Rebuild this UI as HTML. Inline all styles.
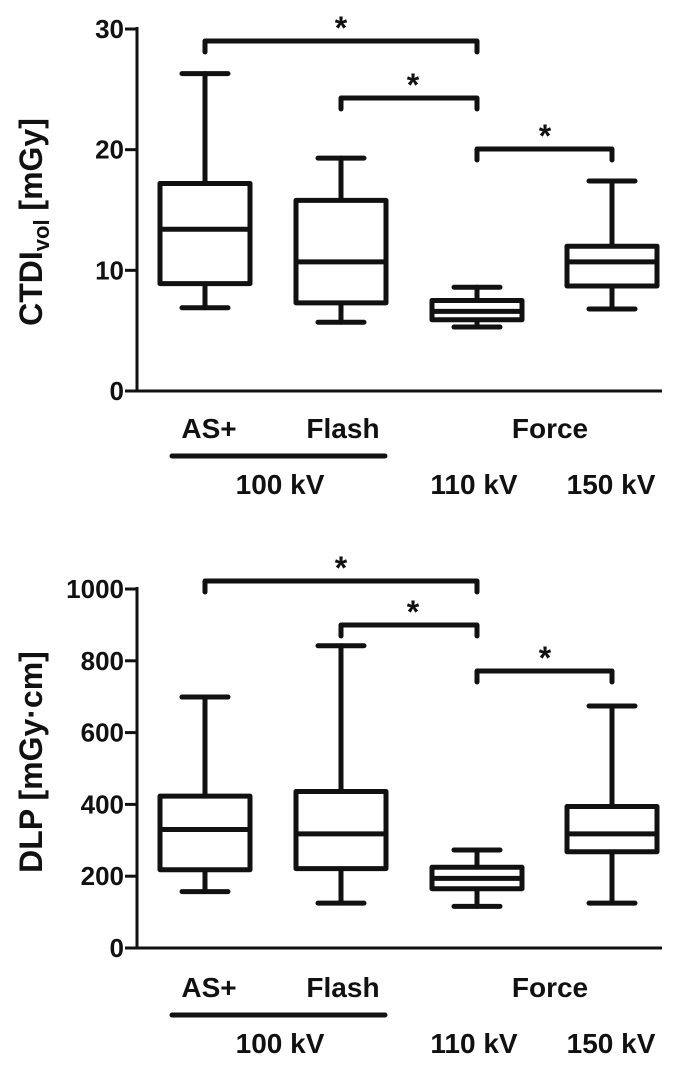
<!DOCTYPE html>
<html><head><meta charset="utf-8"><style>
html,body{margin:0;padding:0;background:#fff;}
svg{display:block;font-family:"Liberation Sans",Arial,sans-serif;font-weight:bold;}
</style></head><body>
<svg id="fig" width="696" height="1068" viewBox="0 0 696 1068"></svg>
<script>
const groups = ["AS+", "Flash", "Force 110 kV", "Force 150 kV"];
const groupX = [205, 341, 477, 612];
const ctdiMax = [26.3, 19.3, 8.6, 17.4];
const ctdiQ3 = [17.2, 15.8, 7.5, 12.0];
const ctdiMed = [13.4, 10.7, 6.6, 10.7];
const ctdiQ1 = [8.9, 7.3, 5.9, 8.7];
const ctdiMin = [6.9, 5.7, 5.3, 6.8];
const ctdiTicks = [0, 10, 20, 30];
const dlpMax = [699, 842, 273, 674];
const dlpQ3 = [423, 436, 225, 394];
const dlpMed = [330, 318, 194, 318];
const dlpQ1 = [218, 221, 165, 268];
const dlpMin = [157, 125, 116, 125];
const dlpTicks = [0, 200, 400, 600, 800, 1000];

const NS = "http://www.w3.org/2000/svg";
const svg = document.getElementById("fig");
function mk(tag, attrs, parent) {
  const e = document.createElementNS(NS, tag);
  for (const k in attrs) e.setAttribute(k, attrs[k]);
  (parent || svg).appendChild(e);
  return e;
}
function line(x1, y1, x2, y2, g) {
  return mk("line", {x1, y1, x2, y2, stroke: "#111", "stroke-width": 5, "stroke-linecap": "round"}, g);
}
function text(s, x, y, size, anchor, g) {
  const t = mk("text", {x, y, "font-size": size, "text-anchor": anchor || "middle", fill: "#111"}, g);
  t.textContent = s;
  return t;
}

function panel(cfg) {
  const g = mk("g", {});
  
  
  const y = v => cfg.y0 - (v - cfg.vmin) / (cfg.vmax - cfg.vmin) * (cfg.y0 - cfg.y1);
  const ax = 137;
  const axg = mk("g", {}, g);
  
  
  mk("line", {x1: ax, y1: y(cfg.vmax) - 2, x2: ax, y2: cfg.y0 + 1.5, stroke: "#111", "stroke-width": 3}, axg);
  const xa = mk("line", {x1: ax - 1.5, y1: cfg.y0, x2: 662, y2: cfg.y0, stroke: "#111", "stroke-width": 3}, g);
  
  
  cfg.ticks.forEach(tv => {
    mk("line", {x1: ax - 12, y1: y(tv), x2: ax, y2: y(tv), stroke: "#111", "stroke-width": 3}, axg);
    const t = text(String(tv), ax - 13, y(tv) + 9, 26, "end", axg);
    
    
  });
  const tt = mk("text", {x: 0, y: 0, "font-size": cfg.titleSize, "text-anchor": "middle", fill: "#111",
    transform: `translate(${cfg.titleX},${cfg.titleY}) rotate(-90)`}, g);
  
  
  tt.innerHTML = cfg.titleHTML;
  groups.forEach((name, i) => {
    const bg = mk("g", {}, g);
    
    
    const cx = groupX[i], hw = 45, cw = 23;
    line(cx, y(cfg.max[i]), cx, y(cfg.q3[i]), bg);
    line(cx, y(cfg.q1[i]), cx, y(cfg.min[i]), bg);
    line(cx - cw, y(cfg.max[i]), cx + cw, y(cfg.max[i]), bg);
    line(cx - cw, y(cfg.min[i]), cx + cw, y(cfg.min[i]), bg);
    mk("rect", {x: cx - hw, y: y(cfg.q3[i]), width: 2 * hw, height: y(cfg.q1[i]) - y(cfg.q3[i]),
      fill: "#fff", stroke: "#111", "stroke-width": 5, "stroke-linejoin": "round"}, bg);
    line(cx - hw, y(cfg.med[i]), cx + hw, y(cfg.med[i]), bg);
  });
  cfg.brackets.forEach(b => {
    const bg = mk("g", {}, g);
    
    
    const x1 = groupX[b[0]], x2 = groupX[b[1]];
    mk("polyline", {points: `${x1},${b[2] + 11} ${x1},${b[2]} ${x2},${b[2]} ${x2},${b[2] + 11}`,
      fill: "none", stroke: "#111", "stroke-width": 5, "stroke-linejoin": "round", "stroke-linecap": "round"}, bg);
    text("*", b[3], b[2] - 2, 32, "middle", bg);
  });
  const lg = mk("g", {}, g);
  
  
  const b = cfg.labBase;
  text("AS+", 209, b, 28, "middle", lg);
  text("Flash", 343, b, 28, "middle", lg);
  text("Force", 550, b, 28, "middle", lg);
  line(172, b + 18, 385, b + 18, lg);
  text("100 kV", 280, b + 56, 28, "middle", lg);
  text("110 kV", 474, b + 56, 28, "middle", lg);
  text("150 kV", 611, b + 56, 28, "middle", lg);
}

panel({name: "ctdi-chart", y0: 391, y1: 29, vmin: 0, vmax: 30, ticks: ctdiTicks,
  max: ctdiMax, q3: ctdiQ3, med: ctdiMed, q1: ctdiQ1, min: ctdiMin,
  titleX: 42, titleY: 222, titleSize: 32, titleHTML: 'CTDI<tspan font-size="22" dy="7">vol</tspan><tspan dy="-7"> [mGy]</tspan>',
  brackets: [[0, 2, 41, 341], [1, 2, 98, 413], [2, 3, 149, 545]], labBase: 438});
panel({name: "dlp-chart", y0: 948, y1: 589, vmin: 0, vmax: 1000, ticks: dlpTicks,
  max: dlpMax, q3: dlpQ3, med: dlpMed, q1: dlpQ1, min: dlpMin,
  titleX: 42, titleY: 762, titleSize: 32, titleHTML: 'DLP [mGy·cm]',
  brackets: [[0, 2, 581, 341], [1, 2, 625, 413], [2, 3, 671, 545]], labBase: 997});
</script>
</body></html>
